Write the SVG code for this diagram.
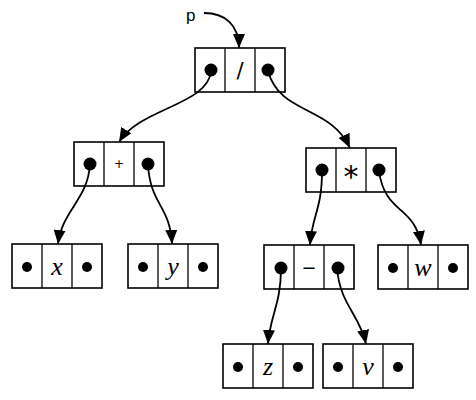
<svg xmlns="http://www.w3.org/2000/svg" width="476" height="400" viewBox="0 0 476 400">
<style>
.box{fill:#fff;stroke:#000;stroke-width:1.6}
.dv{stroke:#000;stroke-width:1.3}
.big{fill:#000}
.sm{fill:#000}
.lab{font-family:"Liberation Serif",serif;font-style:italic;font-size:26px;text-anchor:middle}
.op{font-family:"DejaVu Sans","Liberation Sans",sans-serif;text-anchor:middle}
.edge{fill:none;stroke:#000;stroke-width:1.8;marker-end:url(#ah)}
</style>
<defs>
<marker id="ah" markerUnits="userSpaceOnUse" markerWidth="14" markerHeight="12" refX="14" refY="6" orient="auto">
<path d="M0,0 L14,6 L0,12 z" fill="#000"/>
</marker>
<g id="cell3">
<rect class="box" x="0" y="0" width="90" height="44"/>
<line class="dv" x1="30" y1="0" x2="30" y2="44"/>
<line class="dv" x1="60" y1="0" x2="60" y2="44"/>
</g>
</defs>
<g id="root">
<use href="#cell3" x="195" y="48"/>
<circle class="big" cx="211" cy="70" r="6.5"/>
<circle class="big" cx="268" cy="70" r="6.5"/>
<text class="op" x="240" y="78" font-size="21">/</text>
</g>
<g id="plus">
<use href="#cell3" x="74" y="142"/>
<circle class="big" cx="90" cy="164" r="6.5"/>
<circle class="big" cx="148" cy="164" r="6.5"/>
<text class="op" x="119" y="168" font-size="12">+</text>
</g>
<g id="times">
<use href="#cell3" x="306" y="148"/>
<circle class="big" cx="322" cy="170" r="6.5"/>
<circle class="big" cx="379" cy="170" r="6.5"/>
<text class="op" x="351" y="187" font-size="30">*</text>
</g>
<g id="minus">
<use href="#cell3" x="264" y="245"/>
<circle class="big" cx="281" cy="268" r="6.5"/>
<circle class="big" cx="338" cy="268" r="6.5"/>
<text class="op" x="309" y="274" font-size="18">−</text>
</g>
<g id="leafx">
<use href="#cell3" x="12" y="244"/>
<circle class="sm" cx="27" cy="267" r="5"/>
<circle class="sm" cx="87" cy="267" r="5"/>
<text class="lab" x="57" y="275">x</text>
</g>
<g id="leafy">
<use href="#cell3" x="128" y="244"/>
<circle class="sm" cx="143" cy="267" r="5"/>
<circle class="sm" cx="203" cy="267" r="5"/>
<text class="lab" x="173" y="275">y</text>
</g>
<g id="leafw">
<use href="#cell3" x="378" y="245"/>
<circle class="sm" cx="393" cy="268" r="5"/>
<circle class="sm" cx="453" cy="268" r="5"/>
<text class="lab" x="423" y="276">w</text>
</g>
<g id="leafz">
<use href="#cell3" x="223" y="344"/>
<circle class="sm" cx="238" cy="367" r="5"/>
<circle class="sm" cx="298" cy="367" r="5"/>
<text class="lab" x="268" y="375">z</text>
</g>
<g id="leafv">
<use href="#cell3" x="323" y="344"/>
<circle class="sm" cx="338" cy="367" r="5"/>
<circle class="sm" cx="398" cy="367" r="5"/>
<text class="lab" x="368" y="375">v</text>
</g>
<g id="connectors">
<text x="186" y="21" style="font-family:'Liberation Sans',sans-serif;font-size:17px">p</text>
<path class="edge" d="M204,13 C225,13 239,25 239,48"/>
<path class="edge" d="M211,71 C208,105 140,108 119,142"/>
<path class="edge" d="M268,71 C280,115 330,105 350,148"/>
<path class="edge" d="M90,164 C88,200 62,210 58,244"/>
<path class="edge" d="M148,164 C150,205 170,205 172,244"/>
<path class="edge" d="M322,171 C322,210 312,215 310,245"/>
<path class="edge" d="M379,171 C385,215 415,205 421,245"/>
<path class="edge" d="M281,268 C281,305 270,315 268,344"/>
<path class="edge" d="M337,268 C340,305 360,315 366,344"/>
</g>
</svg>
